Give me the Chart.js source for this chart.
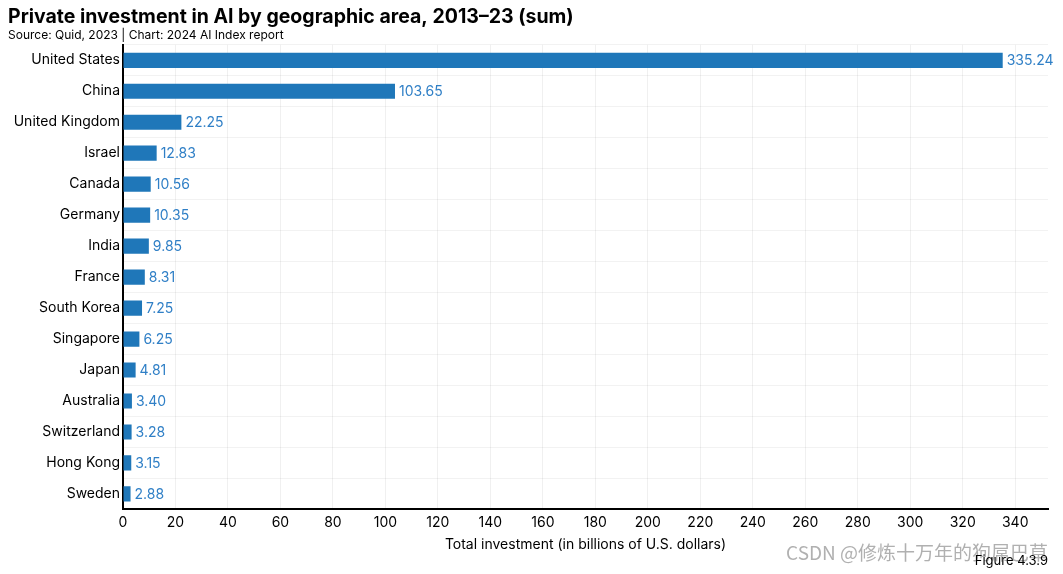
<!DOCTYPE html>
<html>
<head>
<meta charset="utf-8">
<script src="https://cdn.jsdelivr.net/npm/chart.js@4"></script>
<style>
  html, body { margin: 0; padding: 0; background: #fff; }
  #wrap { width: 1063px; height: 574px; }
</style>
</head>
<body>
<div id="wrap"><canvas id="chart"></canvas></div>
<script>
// data
const countries = ['United States', 'China', 'United Kingdom', 'Israel', 'Canada', 'Germany', 'India',
  'France', 'South Korea', 'Singapore', 'Japan', 'Australia', 'Switzerland', 'Hong Kong', 'Sweden'];
const investment = [335.24, 103.65, 22.25, 12.83, 10.56, 10.35, 9.85, 8.31, 7.25, 6.25, 4.81, 3.40, 3.28, 3.15, 2.88];
const xTicks = [0, 20, 40, 60, 80, 100, 120, 140, 160, 180, 200, 220, 240, 260, 280, 300, 320, 340];

const titleText = 'Private investment in AI by geographic area, 2013–23 (sum)';
const subtitleText = 'Source: Quid, 2023 | Chart: 2024 AI Index report';
const xTitle = 'Total investment (in billions of U.S. dollars)';
const figureLabel = 'Figure 4.3.9';
const watermark = 'CSDN @修炼十万年的狗屌巴草';

const FONT = 'Inter, "Noto Sans", sans-serif';
const BLUE = '#1f77b9';

// value labels at the end of each bar
const valueLabels = {
  id: 'valueLabels',
  afterDatasetsDraw(chart) {
    const ctx = chart.ctx;
    const meta = chart.getDatasetMeta(0);
    ctx.save();
    ctx.font = '14px ' + FONT;
    ctx.fillStyle = '#2f7fc6';
    ctx.textBaseline = 'middle';
    ctx.textAlign = 'left';
    meta.data.forEach((bar, i) => {
      ctx.fillText(investment[i].toFixed(2), bar.x + 4, bar.y + 1);
    });
    ctx.restore();
  }
};

// figure number + watermark in the bottom right
const footer = {
  id: 'footer',
  afterDraw(chart) {
    const ctx = chart.ctx;
    ctx.save();
    ctx.textBaseline = 'middle';
    ctx.textAlign = 'right';
    ctx.font = '19px "Noto Sans CJK SC", sans-serif';
    ctx.fillStyle = 'rgba(150,150,150,0.75)';
    ctx.fillText(watermark, 1048, 553);
    ctx.font = '13px ' + FONT;
    ctx.fillStyle = '#000';
    ctx.fillText(figureLabel, 1048, 561);
    ctx.restore();
  }
};

new Chart(document.getElementById('chart'), {
  type: 'bar',
  data: {
    labels: countries,
    datasets: [{
      data: investment,
      backgroundColor: BLUE,
      barPercentage: 0.49,
      categoryPercentage: 1.0
    }]
  },
  options: {
    indexAxis: 'y',
    responsive: true,
    maintainAspectRatio: false,
    animation: false,
    layout: { padding: { left: 8, right: 15, top: 3, bottom: 21 } },
    plugins: {
      legend: { display: false },
      tooltip: { enabled: false },
      title: {
        display: true,
        text: titleText,
        align: 'start',
        color: '#000',
        font: { family: FONT, size: 19.5, weight: 'bold' },
        padding: { top: 2, bottom: 0 }
      },
      subtitle: {
        display: true,
        text: subtitleText,
        align: 'start',
        color: '#000',
        font: { family: FONT, size: 12 },
        padding: { top: 0, bottom: 2 }
      }
    },
    scales: {
      x: {
        min: 0,
        max: 352.5,
        afterBuildTicks(scale) { scale.ticks = xTicks.map(v => ({ value: v })); },
        ticks: {
          autoSkip: false,
          maxRotation: 0,
          color: '#000',
          font: { family: FONT, size: 14 },
          padding: 5
        },
        grid: { color: 'rgba(0,0,0,0.06)', drawTicks: false },
        border: { color: '#000', width: 2 },
        title: {
          display: true,
          text: xTitle,
          color: '#000',
          font: { family: FONT, size: 14 },
          padding: { top: 0, bottom: 0 }
        }
      },
      y: {
        ticks: {
          color: '#000',
          font: { family: FONT, size: 14 },
          padding: 3
        },
        grid: { color: 'rgba(0,0,0,0.05)', drawTicks: false },
        border: { color: '#000', width: 2 },
        afterFit(scale) { scale.width = 115; }
      }
    }
  },
  plugins: [valueLabels, footer]
});
</script>
</body>
</html>
